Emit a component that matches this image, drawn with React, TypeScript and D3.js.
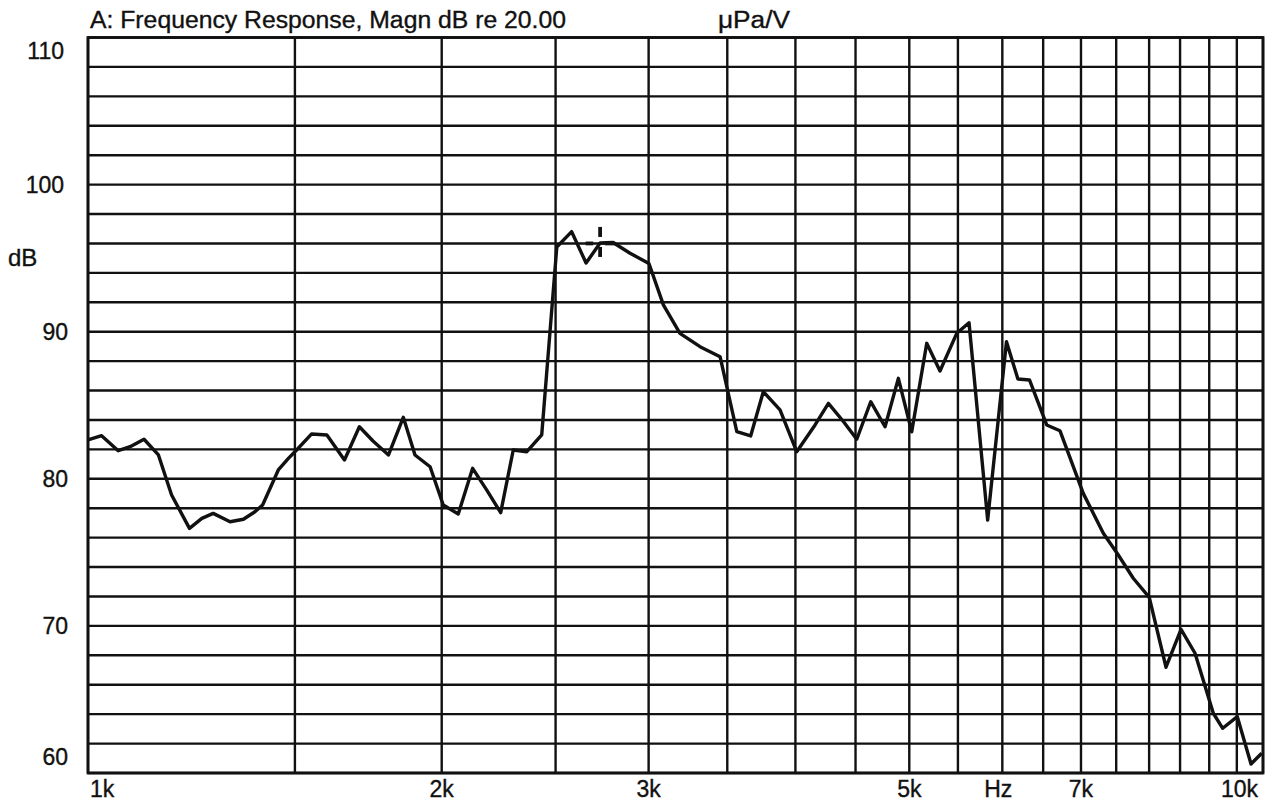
import React from "react";
import * as d3 from "d3";

// Frequency response samples (Hz, dB)
const FREQ = [
  1000, 1027, 1061, 1086, 1116, 1148, 1178, 1220, 1250, 1278, 1321, 1356, 1387, 1408,
  1452, 1481, 1505, 1550, 1597, 1653, 1702, 1748, 1802, 1855, 1898, 1955, 2006, 2066,
  2125, 2186, 2245, 2301, 2363, 2433, 2506, 2580, 2654, 2728, 2798, 2893, 3002, 3088,
  3190, 3318, 3451, 3566, 3664, 3756, 3881, 4010, 4157, 4267, 4391, 4511, 4636, 4768,
  4894, 5024, 5174, 5310, 5487, 5621, 5830, 6049, 6186, 6328, 6545, 6717, 7031, 7313,
  7531, 7755, 8002, 8269, 8516, 8753, 9072, 9241, 9509, 9768, 9974,
];
const MAGN = [
  82.64, 82.93, 81.91, 82.18, 82.69, 81.62, 78.9, 76.63, 77.31, 77.65, 77.08, 77.25, 77.76, 78.22,
  80.6, 81.39, 81.96, 83.05, 82.98, 81.28, 83.54, 82.57, 81.62, 84.18, 81.62, 80.82, 78.22, 77.61,
  80.71, 79.2, 77.7, 81.96, 81.84, 82.98, 95.76, 96.8, 94.67, 96.03, 96.06, 95.33, 94.64, 91.82,
  89.89, 88.98, 88.3, 83.2, 82.91, 85.92, 84.68, 81.84, 83.66, 85.13, 83.93, 82.69, 85.24, 83.54,
  86.83, 83.2, 89.21, 87.33, 89.89, 90.61, 77.2, 89.32, 86.78, 86.72, 83.66, 83.27, 79.01, 76.3,
  74.82, 73.24, 71.94, 67.19, 69.77, 68.14, 64.06, 63.04, 63.83, 60.61, 61.34,
];

// Cursor marker
const MARKER_FREQ = 2728;
const MARKER_DB = 96.0;

// Axis tick labels
const X_TICKS = [1000, 2000, 3000, 5000, 7000, 10000];
const X_TICK_LABELS = ["1k", "2k", "3k", "5k", "7k", "10k"];
const X_UNIT = "Hz";
const X_UNIT_FREQ = 6000;
const Y_TICKS = [60, 70, 80, 90, 100, 110];
const Y_UNIT = "dB";
const TITLE = "A: Frequency Response, Magn dB re 20.00";
const TITLE_UNIT = "\u03bcPa/V";

const X_MIN = 1000;
const X_MAX = 10000;
const Y_MIN = 60;
const Y_MAX = 110;
const X_GRID_STEP = 500;
const Y_GRID_STEP = 2;

const W = 1271;
const H = 802;
const FONT = "'Liberation Sans', Arial, Helvetica, sans-serif";

export default function App() {
  const left = 88;
  const right = 1263;
  const top = 37.5;
  const bottom = 773;
  const x = d3.scaleLog().domain([X_MIN, X_MAX]).range([left, right]);
  const y = d3.scaleLinear().domain([Y_MIN, Y_MAX]).range([bottom, top]);

  const xGrid = d3.range(X_MIN, X_MAX + 1, X_GRID_STEP);
  const yGrid = d3.range(Y_MIN, Y_MAX + 0.001, Y_GRID_STEP);

  const pts: [number, number][] = FREQ.map((f, i) => [f, MAGN[i]]);
  const line = d3
    .line<[number, number]>()
    .x((d) => x(d[0]))
    .y((d) => y(d[1]));

  const mx = x(MARKER_FREQ);
  const my = y(MARKER_DB);

  const ink = "#111";
  const textProps = { fill: ink, stroke: ink, strokeWidth: 0.35 };

  return (
    <svg
      width={W}
      height={H}
      style={{ position: "absolute", left: 0, top: 0, background: "#fff" }}
      fontFamily={FONT}
    >
      <rect x={0} y={0} width={W} height={H} fill="#fff" />
      {/* horizontal grid */}
      {yGrid.map((v) => (
        <line
          key={"h" + v}
          x1={left}
          x2={right}
          y1={y(v)}
          y2={y(v)}
          stroke={ink}
          strokeWidth={2.4}
        />
      ))}
      {/* vertical grid */}
      {xGrid.map((f) => (
        <line
          key={"v" + f}
          x1={x(f)}
          x2={x(f)}
          y1={top}
          y2={bottom}
          stroke={ink}
          strokeWidth={2.4}
        />
      ))}
      <rect
        x={left}
        y={top}
        width={right - left}
        height={bottom - top}
        fill="none"
        stroke={ink}
        strokeWidth={2.8}
      />
      {/* curve */}
      <path
        d={line(pts) || ""}
        fill="none"
        stroke={ink}
        strokeWidth={3.4}
        strokeLinejoin="round"
      />
      {/* marker */}
      <g stroke={ink} strokeWidth={3.8}>
        <line x1={mx} x2={mx} y1={my - 16.5} y2={my - 6.5} />
        <line x1={mx} x2={mx} y1={my + 3.5} y2={my + 13.5} />
        <line x1={mx - 14.5} x2={mx - 7} y1={my} y2={my} />
        <line x1={mx + 5} x2={mx + 15} y1={my} y2={my} />
      </g>
      {/* title */}
      <text x={90} y={28} fontSize={23.5} textLength={476} lengthAdjust="spacingAndGlyphs" {...textProps}>
        {TITLE}
      </text>
      <text x={718} y={28} fontSize={23.5} textLength={72} lengthAdjust="spacingAndGlyphs" {...textProps}>
        {TITLE_UNIT}
      </text>
      {/* y labels */}
      {Y_TICKS.map((v) => {
        let yy = y(v);
        if (v === Y_MAX) yy += 13;
        if (v === Y_MIN) yy -= 16;
        const label = String(v);
        return (
          <text
            key={"yl" + v}
            x={label.length > 2 ? 64 : 68}
            y={yy}
            dy="0.35em"
            textAnchor="end"
            fontSize={23}
            {...textProps}
          >
            {label}
          </text>
        );
      })}
      <text x={8} y={266} fontSize={24} {...textProps}>
        {Y_UNIT}
      </text>
      {/* x labels */}
      {X_TICKS.map((f, i) => {
        const anchor = i === 0 ? "start" : i === X_TICKS.length - 1 ? "end" : "middle";
        const xx = i === 0 ? x(f) + 2 : i === X_TICKS.length - 1 ? x(f) - 5 : x(f);
        return (
          <text
            key={"xl" + f}
            x={xx}
            y={797}
            textAnchor={anchor}
            fontSize={23}
            {...textProps}
          >
            {X_TICK_LABELS[i]}
          </text>
        );
      })}
      <text x={x(X_UNIT_FREQ) - 4} y={797} textAnchor="middle" fontSize={23} {...textProps}>
        {X_UNIT}
      </text>
    </svg>
  );
}
